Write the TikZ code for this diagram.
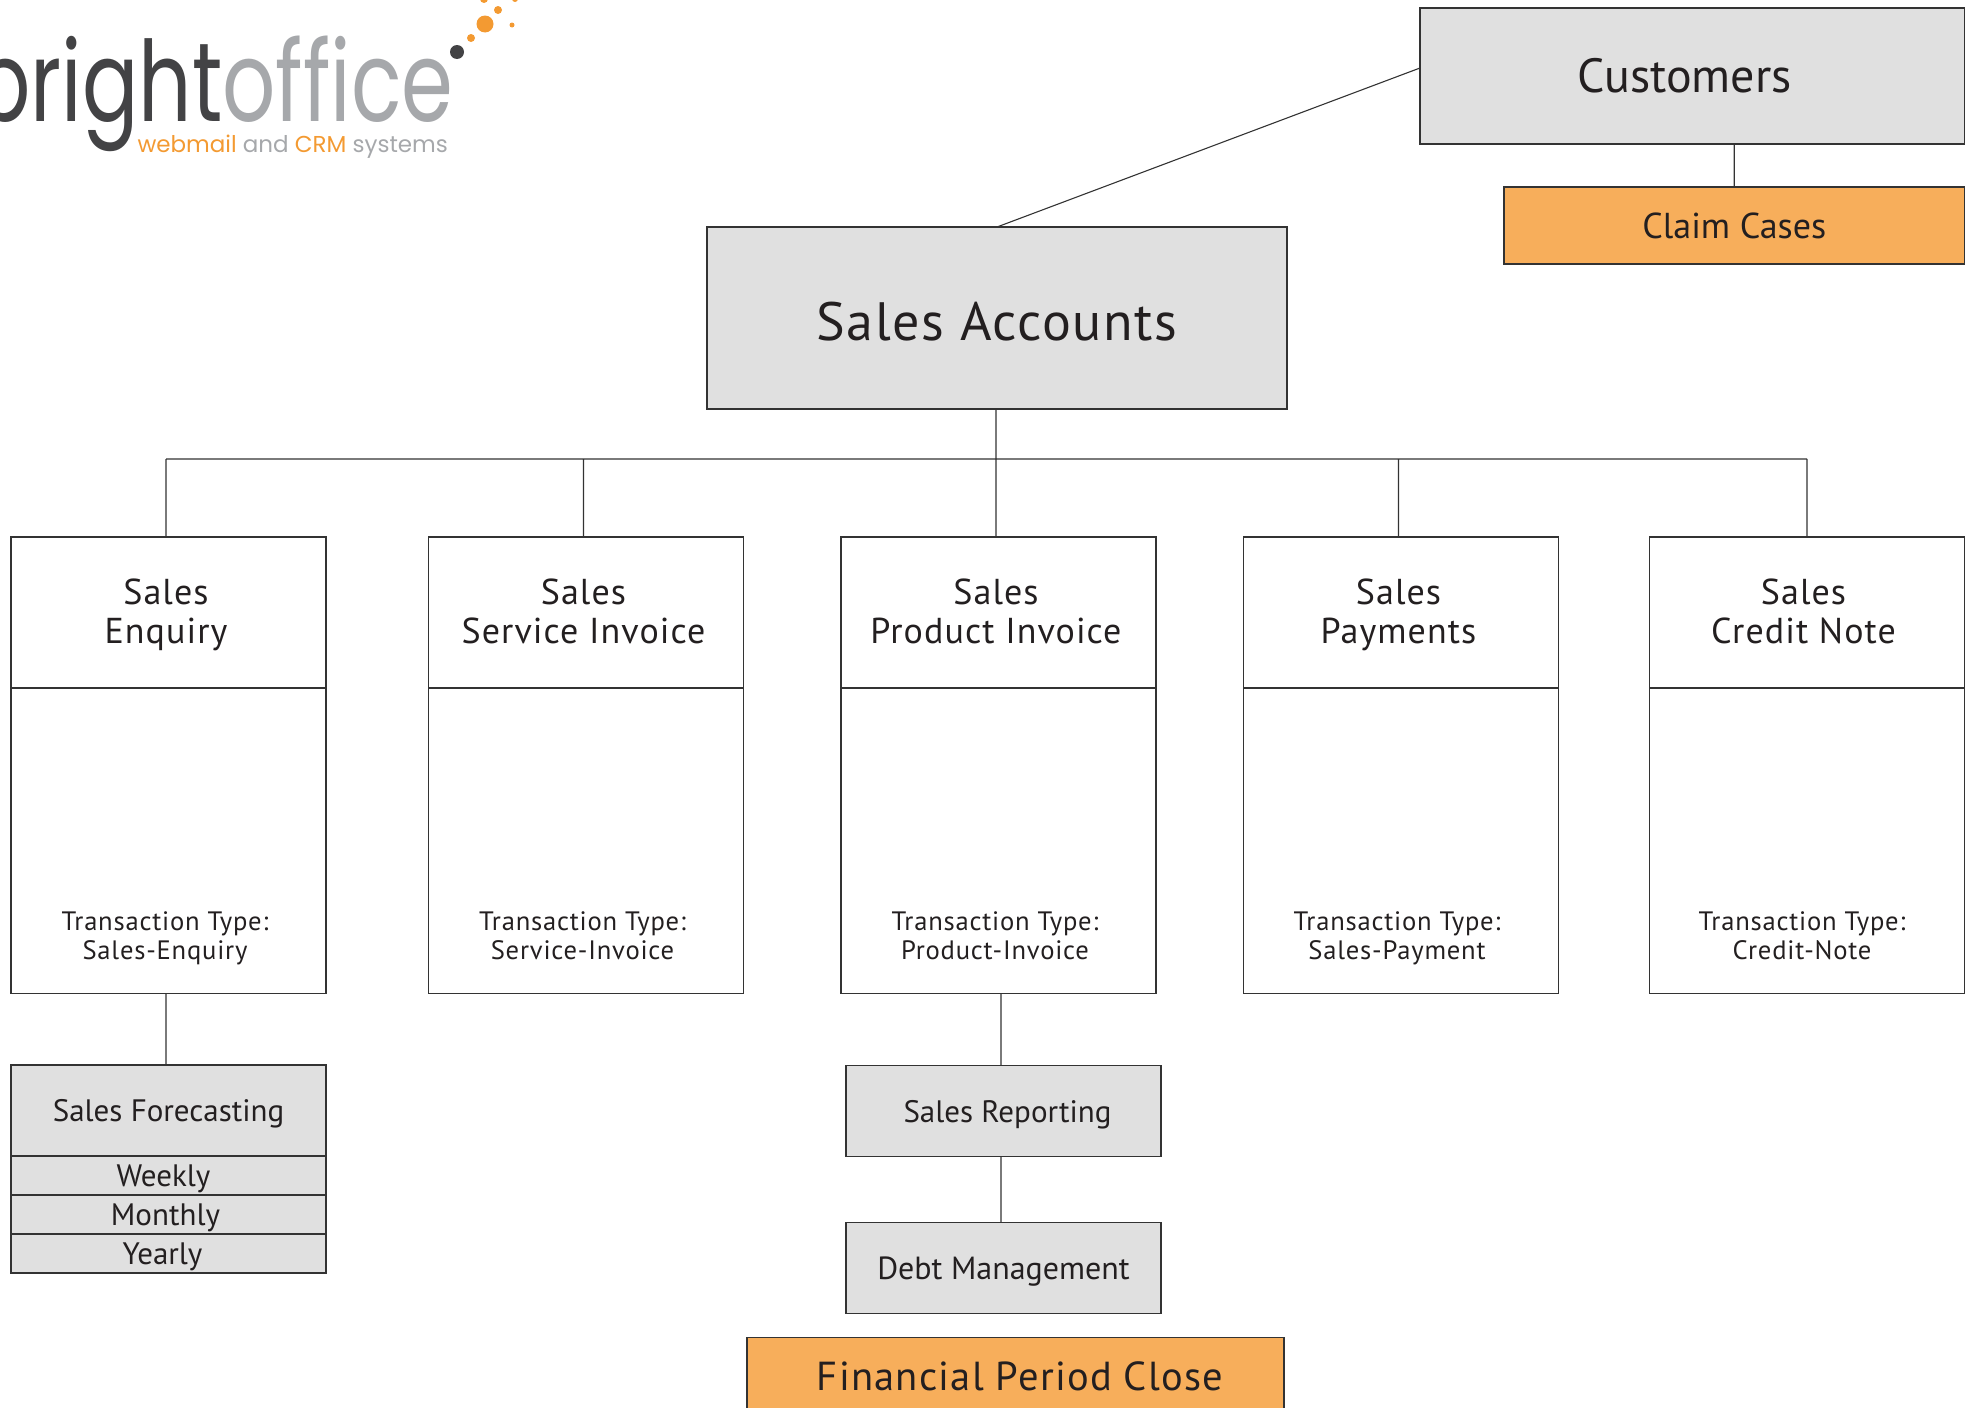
\documentclass[tikz,border=0pt]{standalone}
\usepackage{fontspec}
\setsansfont{PT Sans}
\newfontfamily\widefont[LetterSpace=3]{PT Sans}
\newfontfamily\logofont{Poppins}
\usetikzlibrary{positioning}
\definecolor{boxgrey}{HTML}{E0E0E0}
\definecolor{boxorange}{HTML}{F7AE5B}
\definecolor{inkgrey}{HTML}{231F20}
\definecolor{linegrey}{HTML}{333333}
\definecolor{logodark}{HTML}{434345}
\definecolor{logogrey}{HTML}{A6A8AB}
\definecolor{logoorange}{HTML}{F39A32}

\begin{document}
\begin{tikzpicture}[x=0.5pt,y=-0.5pt,node distance=0pt,line width=0.55pt,draw=linegrey,text=inkgrey,
	main node/.style={rectangle,draw,outer sep=0pt,inner sep=0pt,font=\sffamily},
	grey node/.style={main node,fill=boxgrey},
	orange node/.style={main node,fill=boxorange},
	head node/.style={main node,minimum width=157.5pt,minimum height=75.5pt},
	body node/.style={main node,minimum width=157.5pt,minimum height=152.75pt},
	row node/.style={grey node,minimum width=157.5pt,minimum height=19.5pt,text height=11pt,text depth=0pt,font=\sffamily\fontsize{15.5}{16}\selectfont},
	sub node/.style={grey node,minimum width=157.5pt,minimum height=45.5pt,text height=11pt,text depth=0pt,font=\sffamily\fontsize{15.5}{16}\selectfont},
	title node/.style={align=center,inner sep=0pt,font=\widefont\fontsize{18}{19.5}\selectfont},
	type node/.style={align=center,inner sep=0pt,font=\widefont\fontsize{13.3}{14.5}\selectfont},
	logo word/.style={inner sep=0pt,anchor=base west,font=\logofont\fontsize{56}{60}\selectfont,xscale=0.745,transform shape}]

	\clip[use as bounding box] (0,0) rectangle (1972,1408);

	% logo
	\node[logo word,text=logodark] (bright) at (-26,121) {bright};
	\node[logo word,text=logogrey] (office) at (222,121) {office};
	\node[inner sep=0pt,anchor=base west,font=\logofont\fontsize{11.5}{14}\selectfont,text=logogrey] (tagline) at (137,152)
		{\textcolor{logoorange}{webmail} and \textcolor{logoorange}{CRM} systems};
	\fill[logodark] (457,52) circle (7);
	\fill[logoorange] (471,38) circle (4);
	\fill[logoorange] (485,24) circle (8.5);
	\fill[logoorange] (498,10) circle (4);
	\fill[logoorange] (512,25) circle (2.5);
	\fill[logoorange] (484,-1) circle (4);
	\fill[logoorange] (515,-1) circle (3);

	% top of the tree
	\node[grey node,minimum width=272.25pt,minimum height=68pt] (customers) at (1692.25,76) {\fontsize{24}{26}\selectfont Customers\hspace*{7.5pt}};
	\node[orange node,minimum width=230.25pt,minimum height=38.5pt] (claim) at (1734.25,225.5) {\fontsize{18}{20}\selectfont Claim Cases};
	\node[grey node,minimum width=290pt,minimum height=91pt,text height=22pt,text depth=0pt] (accounts) at (997,318) {\widefont\fontsize{27}{29}\selectfont Sales Accounts};

	% transaction columns
	\node[head node] (head1) at (168.5,612.5) {};
	\node[head node] (head2) at (586,612.5) {};
	\node[head node] (head3) at (998.5,612.5) {};
	\node[head node] (head4) at (1401,612.5) {};
	\node[head node] (head5) at (1807,612.5) {};
	\node[body node,below=of head1] (body1) {};
	\node[body node,below=of head2] (body2) {};
	\node[body node,below=of head3] (body3) {};
	\node[body node,below=of head4] (body4) {};
	\node[body node,below=of head5] (body5) {};

	\node[title node] (title1) at (166,615) {Sales\\Enquiry};
	\node[title node] (title2) at (583.5,611) {Sales\\Service Invoice};
	\node[title node] (title3) at (996,611) {Sales\\Product Invoice};
	\node[title node] (title4) at (1398.5,615) {Sales\\Payments};
	\node[title node] (title5) at (1803.5,611) {Sales\\Credit Note};

	\node[type node] (type1) at (165,938) {Transaction Type:\\Sales-Enquiry};
	\node[type node] (type2) at (582.5,936) {Transaction Type:\\Service-Invoice};
	\node[type node] (type3) at (995,936) {Transaction Type:\\Product-Invoice};
	\node[type node] (type4) at (1397,938) {Transaction Type:\\Sales-Payment};
	\node[type node] (type5) at (1802,936) {Transaction Type:\\Credit-Note};

	% lower boxes
	\node[sub node] (forecast) at (168.5,1110.5) {Sales Forecasting};
	\node[row node,below=of forecast] (weekly) {Weekly\hspace*{5pt}};
	\node[row node,below=of weekly] (monthly) {Monthly\hspace*{3pt}};
	\node[row node,below=of monthly] (yearly) {Yearly\hspace*{6pt}};
	\node[sub node] (reporting) at (1003.5,1111) {Sales Reporting\hspace*{-4pt}};
	\node[sub node] (debt) at (1003.5,1268) {\fontsize{16}{17}\selectfont Debt Management};
	\node[orange node,minimum width=268.5pt,minimum height=39pt] (period) at (1015.5,1376.5) {\widefont\fontsize{20.25}{22}\selectfont\hspace*{4.5pt}Financial Period Close};

	% connectors
	\coordinate (bus) at (996,459);
	\coordinate (custleft) at ([yshift=4pt]customers.west);
	\path[draw]
	(custleft) -- (accounts.north)
	(customers.south -| claim.north) -- (claim.north)
	(accounts.south -| bus) -- (bus)
	(bus -| title1) -- (bus -| head5)
	(bus -| title1) -- (title1 |- head1.north)
	(bus -| title2) -- (title2 |- head2.north)
	(bus -| title3) -- (title3 |- head3.north)
	(bus -| title4) -- (title4 |- head4.north)
	(bus -| head5) -- (head5.north)
	(title1 |- body1.south) -- (title1 |- forecast.north)
	([xshift=-1.25pt]reporting.north |- body3.south) -- ([xshift=-1.25pt]reporting.north)
	([xshift=-1.25pt]reporting.south) -- ([xshift=-1.25pt]debt.north);
\end{tikzpicture}
\end{document}
